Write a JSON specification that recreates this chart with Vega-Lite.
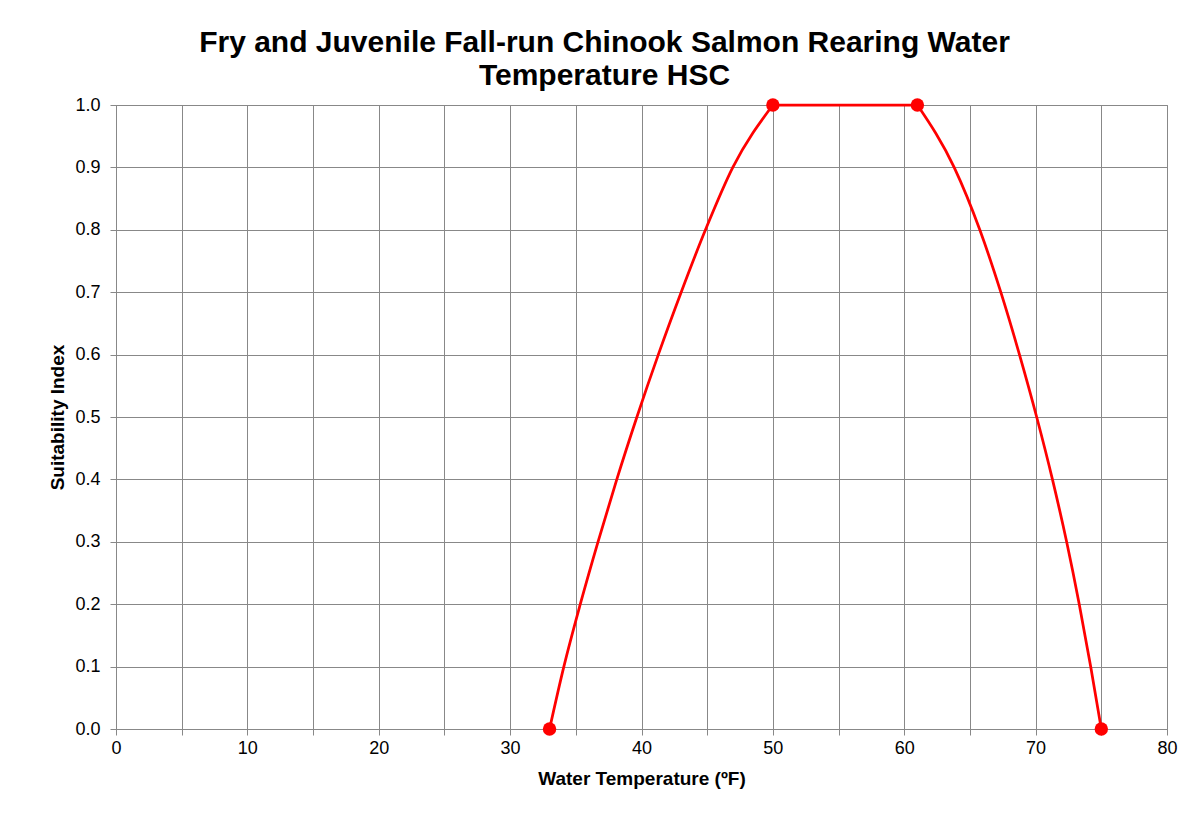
{
  "$schema": "https://vega.github.io/schema/vega-lite/v6.json",
  "autosize": {"type": "none"},
  "width": 1051,
  "height": 624,
  "padding": {"left": 116, "top": 105, "right": 17, "bottom": 85},
  "background": "white",
  "title": {
    "text": ["Fry and Juvenile Fall-run Chinook Salmon Rearing Water", "Temperature HSC"],
    "font": "Liberation Sans",
    "fontSize": 30,
    "fontWeight": "bold",
    "color": "#000000",
    "anchor": "middle",
    "dx": -37,
    "offset": 5,
    "lineHeight": 33
  },
  "datasets": {
    "curve": [
      {"part": "rise", "temp": 33, "si": 0.0},
      {"part": "rise", "temp": 34.09, "si": 0.1},
      {"part": "rise", "temp": 35.34, "si": 0.2},
      {"part": "rise", "temp": 36.69, "si": 0.3},
      {"part": "rise", "temp": 38.12, "si": 0.4},
      {"part": "rise", "temp": 39.65, "si": 0.5},
      {"part": "rise", "temp": 41.28, "si": 0.6},
      {"part": "rise", "temp": 43.02, "si": 0.7},
      {"part": "rise", "temp": 44.87, "si": 0.8},
      {"part": "rise", "temp": 46.95, "si": 0.9},
      {"part": "rise", "temp": 50, "si": 1.0},
      {"part": "plateau", "temp": 50, "si": 1.0},
      {"part": "plateau", "temp": 61, "si": 1.0},
      {"part": "fall", "temp": 61, "si": 1.0},
      {"part": "fall", "temp": 63.8, "si": 0.9},
      {"part": "fall", "temp": 65.75, "si": 0.8},
      {"part": "fall", "temp": 67.35, "si": 0.7},
      {"part": "fall", "temp": 68.77, "si": 0.6},
      {"part": "fall", "temp": 70.08, "si": 0.5},
      {"part": "fall", "temp": 71.28, "si": 0.4},
      {"part": "fall", "temp": 72.36, "si": 0.3},
      {"part": "fall", "temp": 73.32, "si": 0.2},
      {"part": "fall", "temp": 74.19, "si": 0.1},
      {"part": "fall", "temp": 75, "si": 0.0}
    ],
    "points": [
      {"temp": 33, "si": 0.0},
      {"temp": 50, "si": 1.0},
      {"temp": 61, "si": 1.0},
      {"temp": 75, "si": 0.0}
    ]
  },
  "encoding": {
    "x": {
      "field": "temp",
      "type": "quantitative",
      "scale": {"domain": [0, 80], "nice": false, "zero": false},
      "axis": {
        "title": "Water Temperature (ºF)",
        "values": [0, 5, 10, 15, 20, 25, 30, 35, 40, 45, 50, 55, 60, 65, 70, 75, 80],
        "labelExpr": "datum.value % 10 === 0 ? datum.label : ''",
        "grid": true,
        "gridColor": "#888888",
        "gridWidth": 1,
        "gridOpacity": 1,
        "domainColor": "#888888",
        "tickColor": "#888888",
        "tickSize": 6,
        "labelFont": "Liberation Sans",
        "labelFontSize": 18,
        "labelColor": "#000000",
        "labelPadding": 4,
        "labelFlush": false,
        "titleFont": "Liberation Sans",
        "titleFontSize": 19,
        "titleFontWeight": "bold",
        "titleColor": "#000000",
        "titlePadding": 12
      }
    },
    "y": {
      "field": "si",
      "type": "quantitative",
      "scale": {"domain": [0, 1], "nice": false},
      "axis": {
        "title": "Suitability Index",
        "values": [0, 0.1, 0.2, 0.3, 0.4, 0.5, 0.6, 0.7, 0.8, 0.9, 1.0],
        "format": ".1f",
        "grid": true,
        "gridColor": "#888888",
        "gridWidth": 1,
        "gridOpacity": 1,
        "domainColor": "#888888",
        "tickColor": "#888888",
        "tickSize": 6,
        "labelFont": "Liberation Sans",
        "labelFontSize": 18,
        "labelColor": "#000000",
        "labelPadding": 10,
        "labelFlush": false,
        "titleFont": "Liberation Sans",
        "titleFontSize": 19,
        "titleFontWeight": "bold",
        "titleColor": "#000000",
        "titlePadding": 7
      }
    }
  },
  "layer": [
    {
      "data": {"name": "curve"},
      "mark": {"type": "line", "color": "#ff0000", "strokeWidth": 2.75, "interpolate": "monotone"},
      "encoding": {"detail": {"field": "part", "type": "nominal"}}
    },
    {
      "data": {"name": "points"},
      "mark": {"type": "point", "filled": true, "color": "#ff0000", "opacity": 1, "size": 180, "shape": "circle"}
    }
  ],
  "config": {
    "view": {"stroke": "#888888", "strokeWidth": 1}
  }
}
